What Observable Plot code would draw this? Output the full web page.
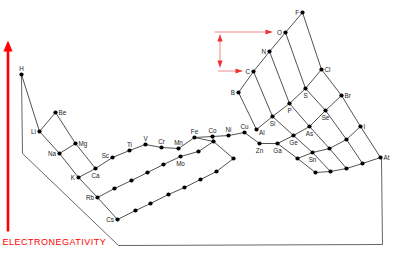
<!DOCTYPE html>
<html><head><meta charset="utf-8">
<script src="https://cdn.jsdelivr.net/npm/d3@7"></script>
<script src="https://cdn.jsdelivr.net/npm/@observablehq/plot@0.6"></script>
<style>
html,body{margin:0;padding:0;background:#fff}
#chart{width:400px;height:255px}
</style>
</head><body><div id="chart"></div>
<script>
// Element nodes of the diagram (x across, y down the page)
const symbols = ["H","Li","Be","Na","Mg","K","Ca","Sc","Ti","V","Cr","Mn","Fe","Co","Ni","Cu","Zn","Ga","Ge","As","Se","Br",
  "Rb","Sr","Y","Zr","Nb","Mo","Tc","Ru","Cs","Ba","La","Hf","Ta","W","Re","Os",
  "B","C","N","O","F","Al","Si","P","S","Cl","In","Sn","Sb","Te","I","Tl","Pb","Bi","Po","At"];
const xs = [21,39,55,59,75,78,95,112,129,145,161,178,194,212,228,244,259,277,293,309,325,341,
  97,114,131,147,163,180,198,213,117,135,150,168,184,200,216,233,
  238,253,269,285,302,256,272,289,305,321,297,312,329,346,360,315,330,346,362,380];
const ys = [74,131,112,153,143,177,168,157,150,144,147,148,137,136,135,132,143,143,135,126,110,95,
  197,188,180,172,164,156,151,141,219,210,203,194,187,179,171,158,
  92,71,51,32,12,129,116,103,88,69,158,152,148,139,126,172,171,168,163,157];

// Which nodes carry a printed label, by side
const labelAbove = ["H","Ti","V","Cr","Mn","Fe","Co","Ni","Cu"];
const labelBelow = ["Ca","Zn","Ga","Ge","As","Se","Si","P","S","Sn","Mo"];
const labelLeft  = ["Li","Na","K","Rb","Cs","B","C","N","O","F"];
const labelLeftUp = ["Sc"];
const labelRight = ["Be","Mg","Cl","Br","I","At"];
const labelRightDown = ["Al"];

// Connecting lines (chains of nodes)
const bonds = [
  "H-Li-Na-K-Rb-Cs", "Li-Be", "Be-Mg-Ca", "Na-Mg",
  "K-Ca-Sc-Ti-V-Cr-Mn-Fe-Co-Ni-Cu-Zn-Ga-Ge-As-Se-Br",
  "Rb-Sr-Y-Zr-Nb-Mo-Tc-Ru", "Cs-Ba-La-Hf-Ta-W-Re-Os-Ru", "Fe-Ru", "Co-Ru",
  "B-C-N-O-F", "Al-Si-P-S-Cl", "In-Sn-Sb-Te-I", "Tl-Pb-Bi-Po-At",
  "B-Al", "Ga-In-Tl", "C-Si-Ge-Sn-Pb", "N-P-As-Sb-Bi", "O-S-Se-Te-Po", "F-Cl-Br-I-At"
];

// Base outline
const frameX = [21,22,118,382,381];
const frameY = [74,153,245,244,158];

// Arrows
const arrowX1 = [7.5, 214, 217.5, 219.5];
const arrowY1 = [231, 31.5, 70.5, 34];
const arrowX2 = [7.5, 272, 242, 219.5];
const arrowY2 = [40, 31.5, 70.5, 67];
const arrowBothEnds = [false, false, false, true];

const axisTitle = "ELECTRONEGATIVITY";

// ---- build tables ----
const nodes = symbols.map((s, i) => ({s, x: xs[i], y: ys[i]}));
const bySym = new Map(nodes.map(d => [d.s, d]));
const bondRows = [];
bonds.forEach((chain, k) => chain.split("-").forEach(s => {
  const d = bySym.get(s); bondRows.push({x: d.x, y: d.y, chain: k});
}));
const frameRows = frameX.map((x, i) => ({x, y: frameY[i]}));
const arrows = arrowX1.map((x1, i) => ({x1, y1: arrowY1[i], x2: arrowX2[i], y2: arrowY2[i], both: arrowBothEnds[i], big: i === 0}));
const pick = list => nodes.filter(d => list.includes(d.s));

function headSymbol(ux, uy, len, half) {
  return {draw(ctx) {
    const bx = -ux * len, by = -uy * len, px = -uy * half, py = ux * half;
    ctx.moveTo(0, 0);
    ctx.lineTo(bx + px, by + py);
    ctx.lineTo(bx - px, by - py);
    ctx.closePath();
  }};
}
const headMarks = [];
arrows.forEach(a => {
  const L = Math.hypot(a.x2 - a.x1, a.y2 - a.y1);
  const ux = (a.x2 - a.x1) / L, uy = (a.y2 - a.y1) / L;
  const len = a.big ? 11 : 7, half = a.big ? 4.6 : 2.6;
  const fill = a.big ? "#ff0000" : "#ee3030";
  headMarks.push(Plot.dot([a], {x: "x2", y: "y2", symbol: headSymbol(ux, uy, len, half), fill, stroke: "none", r: 3}));
  if (a.both) headMarks.push(Plot.dot([a], {x: "x1", y: "y1", symbol: headSymbol(-ux, -uy, len, half), fill, stroke: "none", r: 3}));
});

const lab = {fontSize: 6.3, fill: "#222"};
const plot = Plot.plot({
  width: 400, height: 255, margin: 0,
  x: {domain: [0, 400], range: [0, 400], axis: null},
  y: {domain: [0, 255], range: [0, 255], axis: null},
  style: {background: "white", fontFamily: "'Liberation Sans', Arial, sans-serif"},
  marks: [
    Plot.line(frameRows, {x: "x", y: "y", stroke: "#555", strokeWidth: 0.9}),
    Plot.line(bondRows, {x: "x", y: "y", z: "chain", stroke: "#333", strokeWidth: 0.85}),
    Plot.dot(nodes, {x: "x", y: "y", r: 2.1, fill: "#000", stroke: "none"}),
    Plot.text(pick(labelAbove), {x: "x", y: "y", text: "s", dy: -6, ...lab}),
    Plot.text(pick(labelBelow), {x: "x", y: "y", text: "s", dy: 7, ...lab}),
    Plot.text(pick(labelLeft), {x: "x", y: "y", text: "s", dx: -3.5, textAnchor: "end", ...lab}),
    Plot.text(pick(labelLeftUp), {x: "x", y: "y", text: "s", dx: -3.5, dy: -2, textAnchor: "end", ...lab}),
    Plot.text(pick(labelRight), {x: "x", y: "y", text: "s", dx: 3, textAnchor: "start", ...lab}),
    Plot.text(pick(labelRightDown), {x: "x", y: "y", text: "s", dx: 2.5, dy: 3.5, textAnchor: "start", ...lab}),
    Plot.link(arrows.filter(a => a.big), {x1: "x1", y1: "y1", x2: "x2", y2: d => d.y2 + 8, stroke: "#ff0000", strokeWidth: 2.6}),
    Plot.link(arrows.filter(a => !a.big), {x1: "x1", y1: "y1", x2: "x2", y2: "y2", stroke: "#f08a8a", strokeWidth: 1}),
    ...headMarks,
    Plot.text([axisTitle], {x: () => 2, y: () => 241.5, text: d => d, textAnchor: "start", fontSize: 9, fill: "#ff0000"})
  ]
});
d3.select(plot).selectAll("text").filter(function() { return this.textContent === axisTitle; }).attr("letter-spacing", "0.5px");
document.getElementById("chart").appendChild(plot);
</script>
</body></html>
